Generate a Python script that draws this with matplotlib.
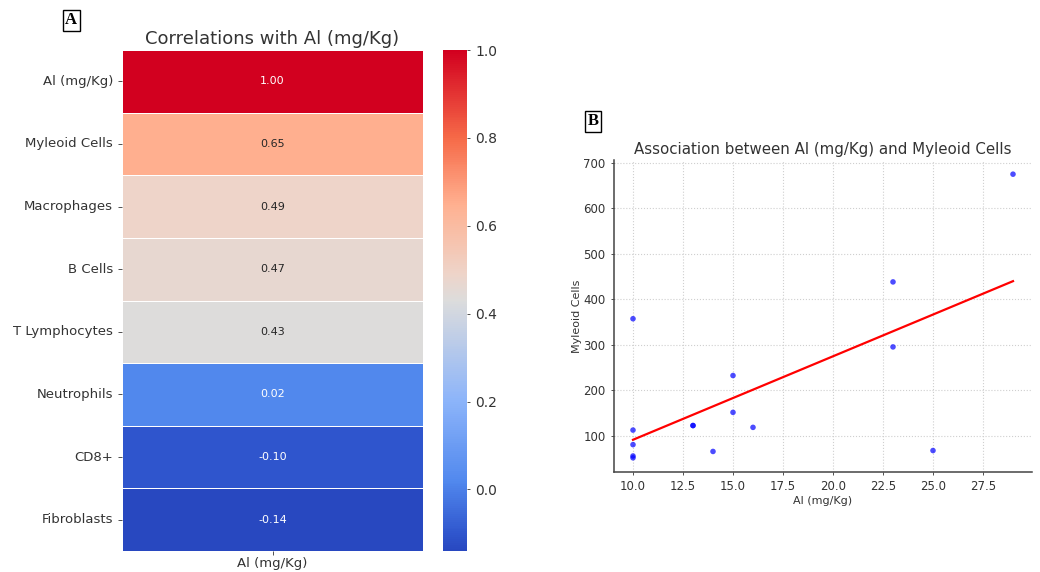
import numpy as np
import matplotlib
matplotlib.use("Agg")
import matplotlib.pyplot as plt
from matplotlib.colors import LinearSegmentedColormap
import seaborn as sns

# ============================================================
# DATA
# ============================================================

cell_types = ["Al (mg/Kg)", "Myleoid Cells", "Macrophages", "B Cells",
              "T Lymphocytes", "Neutrophils", "CD8+", "Fibroblasts"]
corr_values = [1.00, 0.65, 0.49, 0.47, 0.43, 0.02, -0.10, -0.14]

al_mgkg = [10, 10, 10, 10, 10, 13, 13, 14, 15, 15, 16, 23, 23, 25, 29]
myleoid = [357, 112, 80, 55, 51, 122, 122, 65, 232, 151, 118, 438, 295, 67, 675]

TXT = "#333333"

# saturated coolwarm-like palette (value, colour)
cmap_anchors = [(-0.14, "#2848c0"), (-0.10, "#3057ce"), (0.02, "#5289ee"),
                (0.20, "#8cb4fa"), (0.43, "#dcdcdc"), (0.49, "#eed4c9"),
                (0.65, "#ffb090"), (0.80, "#f66a48"), (1.00, "#d2001f")]
vmin, vmax = -0.14, 1.0
cmap = LinearSegmentedColormap.from_list(
    "cw_sat", [((v - vmin) / (vmax - vmin), c) for v, c in cmap_anchors])

fig = plt.figure(figsize=(10.4, 5.72), dpi=100)

# ============================================================
# PANEL A - heatmap
# ============================================================
ax_h = fig.add_axes([122 / 1040, 1 - 551 / 572, 301 / 1040, 501 / 572])
ax_cb = fig.add_axes([443 / 1040, 1 - 551 / 572, 24 / 1040, 501 / 572])

corr = np.array(corr_values).reshape(-1, 1)
sns.heatmap(corr, ax=ax_h, cbar_ax=ax_cb, cmap=cmap, vmin=vmin, vmax=vmax,
            annot=True, fmt=".2f", linewidths=0.6, linecolor="white",
            yticklabels=cell_types, xticklabels=["Al (mg/Kg)"],
            annot_kws={"fontsize": 8})
ax_h.set_title("Correlations with Al (mg/Kg)", fontsize=13, color=TXT, pad=4)
ax_h.tick_params(axis="both", labelsize=9.5, colors=TXT, length=3, width=0.6)
ax_h.tick_params(axis="x", pad=1.5)
ax_h.tick_params(axis="y", rotation=0)
ax_cb.tick_params(labelsize=10, colors=TXT, length=2.5, width=0.6)
ax_cb.set_yticks([0.0, 0.2, 0.4, 0.6, 0.8, 1.0])
for s in ax_cb.spines.values():
    s.set_visible(False)

fig.text(71 / 1040, 1 - 20 / 572, "A", ha="center", va="center", fontsize=12,
         fontweight="bold", family="Liberation Serif",
         bbox=dict(boxstyle="square,pad=0.15", fc="white", ec="black", lw=1))

# ============================================================
# PANEL B - scatter + linear fit
# ============================================================
ax_s = fig.add_axes([614 / 1040, 1 - 472 / 572, 418 / 1040, 312 / 572])

x = np.array(al_mgkg, dtype=float)
y = np.array(myleoid, dtype=float)
ax_s.scatter(x, y, color="blue", alpha=0.7, s=16, edgecolors="none", zorder=3)

m, b = np.polyfit(x, y, 1)
x_line = np.array([x.min(), x.max()])
ax_s.plot(x_line, m * x_line + b, color="red", lw=1.6, zorder=2)

ax_s.set_title("Association between Al (mg/Kg) and Myleoid Cells", fontsize=10.8,
               color=TXT, pad=4)
ax_s.set_xlabel("Al (mg/Kg)", fontsize=8, color=TXT, labelpad=2)
ax_s.set_ylabel("Myleoid Cells", fontsize=8, color=TXT, labelpad=1)
ax_s.set_xticks(np.arange(10, 28.0, 2.5))
ax_s.set_yticks(np.arange(100, 701, 100))
ax_s.tick_params(labelsize=8.5, colors=TXT, length=2.5, width=0.6)
ax_s.grid(True, linestyle=":", color="#cfcfcf", lw=0.8)
ax_s.spines["top"].set_visible(False)
ax_s.spines["right"].set_visible(False)
for s in ("left", "bottom"):
    ax_s.spines[s].set_color("#444444")
    ax_s.spines[s].set_linewidth(1.1)

fig.text(593 / 1040, 1 - 121 / 572, "B", ha="center", va="center", fontsize=12,
         fontweight="bold", family="Liberation Serif",
         bbox=dict(boxstyle="square,pad=0.15", fc="white", ec="black", lw=1))

fig.savefig("out.png", dpi=100)
